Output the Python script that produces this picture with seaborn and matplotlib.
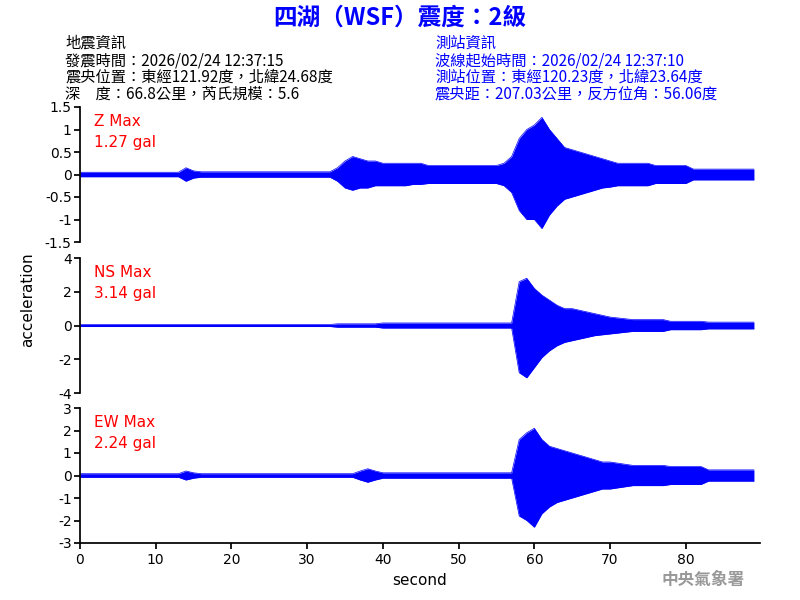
import matplotlib
matplotlib.use("Agg")
import matplotlib.pyplot as plt
import seaborn as sns
import numpy as np
import pandas as pd

sns.set_theme(style="white")
plt.rcParams['font.family'] = ['Noto Sans CJK TC', 'DejaVu Sans']
plt.rcParams['text.color'] = 'black'
plt.rcParams['xtick.color'] = 'black'
plt.rcParams['ytick.color'] = 'black'
plt.rcParams['axes.labelcolor'] = 'black'

seconds = list(range(90))
z_up = ([0.05]*14 + [0.15, 0.08] + [0.06]*18 + [0.15, 0.3, 0.4, 0.35, 0.3, 0.3, 0.25, 0.25, 0.25, 0.25, 0.25, 0.25]
        + [0.2]*10 + [0.25, 0.4, 0.8, 1.0, 1.1, 1.27, 1.0, 0.8, 0.6, 0.55, 0.5, 0.45, 0.4, 0.35, 0.3]
        + [0.25]*5 + [0.2]*5 + [0.12]*9)
z_dn = ([-0.05]*14 + [-0.15, -0.08] + [-0.06]*18 + [-0.15, -0.3, -0.35, -0.3, -0.3, -0.25, -0.25, -0.25, -0.25, -0.25, -0.22, -0.22]
        + [-0.2]*10 + [-0.25, -0.4, -0.8, -1.0, -1.0, -1.2, -0.9, -0.7, -0.55, -0.5, -0.45, -0.4, -0.35, -0.3, -0.28]
        + [-0.25]*5 + [-0.2]*5 + [-0.12]*9)
ns_up = ([0.06]*34 + [0.1]*6 + [0.15]*18 + [2.6, 2.8, 2.2, 1.8, 1.5, 1.2, 1.0, 1.0, 0.9, 0.8, 0.7, 0.6, 0.5, 0.45, 0.4]
         + [0.35]*5 + [0.25]*5 + [0.2]*7)
ns_dn = ([-0.06]*34 + [-0.1]*6 + [-0.15]*18 + [-2.8, -3.1, -2.5, -1.9, -1.5, -1.2, -1.0, -0.9, -0.8, -0.7, -0.6, -0.55, -0.5, -0.45, -0.4]
         + [-0.35]*5 + [-0.25]*5 + [-0.2]*7)
ew_up = ([0.08]*14 + [0.2, 0.12] + [0.08]*21 + [0.2, 0.3, 0.2] + [0.12]*18 + [1.6, 1.9, 2.1, 1.6, 1.3, 1.2, 1.1, 1.0, 0.9, 0.8, 0.7, 0.6, 0.6, 0.55, 0.5]
         + [0.45]*5 + [0.4]*5 + [0.25]*7)
ew_dn = ([-0.08]*14 + [-0.2, -0.12] + [-0.08]*21 + [-0.2, -0.3, -0.2] + [-0.12]*18 + [-1.8, -2.0, -2.3, -1.7, -1.4, -1.2, -1.1, -1.0, -0.9, -0.8, -0.7, -0.6, -0.6, -0.55, -0.5]
         + [-0.45]*5 + [-0.4]*5 + [-0.25]*7)

labels = ["Z Max\n1.27 gal", "NS Max\n3.14 gal", "EW Max\n2.24 gal"]
ylims = [(-1.5, 1.5), (-4, 4), (-3, 3)]
yticks = [[-1.5, -1, -0.5, 0, 0.5, 1, 1.5], [-4, -2, 0, 2, 4], [-3, -2, -1, 0, 1, 2, 3]]
ups = [z_up, ns_up, ew_up]
dns = [z_dn, ns_dn, ew_dn]

fig = plt.figure(figsize=(8, 6), dpi=100)
tops = [107, 258, 408]
for i in range(3):
    ax = fig.add_axes([80/800, 1 - (tops[i] + 135)/600, 680/800, 135/600])
    df = pd.DataFrame({"t": seconds, "up": ups[i], "dn": dns[i]})
    ax.fill_between(df.t, df.dn, df.up, color="blue", lw=0)
    sns.lineplot(data=df, x="t", y="up", ax=ax, color="blue", lw=0.5)
    sns.lineplot(data=df, x="t", y="dn", ax=ax, color="blue", lw=0.5)
    ax.set_xlim(0, 89.8)
    ax.set_ylim(*ylims[i])
    ax.set_yticks(yticks[i])
    ax.set_yticklabels([f"{v:g}" for v in yticks[i]], fontsize=10, family="DejaVu Sans")
    ax.tick_params(axis='y', length=4, left=True, pad=2)
    for s in ["top", "right", "bottom"]:
        ax.spines[s].set_visible(False)
    ax.spines["left"].set_color("black")
    ax.set_ylabel("")
    ax.set_xlabel("")
    ax.text(0.02, 0.95, labels[i], transform=ax.transAxes, color="red", fontsize=11,
            va="top", family="DejaVu Sans", linespacing=1.5)
    if i < 2:
        ax.set_xticks([])
    else:
        ax.spines["bottom"].set_visible(True)
        ax.spines["bottom"].set_color("black")
        ax.set_xticks(range(0, 90, 10))
        ax.set_xticklabels([str(v) for v in range(0, 90, 10)], fontsize=10, family="DejaVu Sans")
        ax.tick_params(axis='x', length=4, bottom=True)
        ax.set_xlabel("second", fontsize=11, family="DejaVu Sans")

fig.text(28/800, 1 - 300/600, "acceleration", rotation=90, va="center", ha="center", fontsize=11, family="DejaVu Sans")
fig.text(0.5, 1 - 18/600, "四湖（WSF）震度：2級", color="blue", fontsize=17, fontweight="bold", ha="center", va="center")
left = "地震資訊\n發震時間：2026/02/24 12:37:15\n震央位置：東經121.92度，北緯24.68度\n深　度：66.8公里，芮氏規模：5.6"
right = "測站資訊\n波線起始時間：2026/02/24 12:37:10\n測站位置：東經120.23度，北緯23.64度\n震央距：207.03公里，反方位角：56.06度"
fig.text(65/800, 1 - 35/600, left, color="black", fontsize=11, fontweight="medium", va="top", linespacing=1.0)
fig.text(435/800, 1 - 35/600, right, color="blue", fontsize=11, fontweight="medium", va="top", linespacing=1.0)
fig.text(745/800, 1 - 580/600, "中央氣象署", color="#999999", fontsize=12, fontweight="bold", ha="right", va="center")

fig.savefig("out.png", dpi=100)
